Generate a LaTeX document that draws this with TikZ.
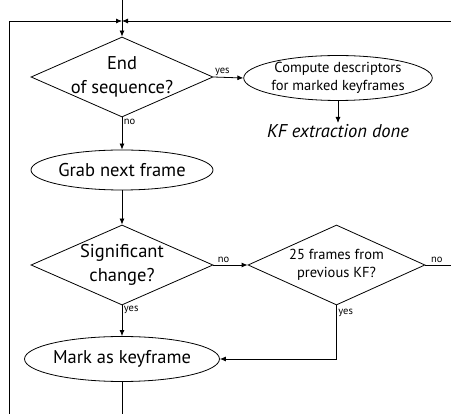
\documentclass[tikz,border=0pt]{standalone}
\usepackage{fontspec}
\setmainfont{PT Sans}
\usetikzlibrary{shapes.geometric,arrows.meta}
\begin{document}
\begin{tikzpicture}[x=1pt,y=-1pt,
  line width=0.8pt,
  >={Latex[length=6pt,width=5pt]},
  decision/.style={diamond,draw,aspect=2.275,inner sep=-10pt,minimum width=182pt,minimum height=80pt,align=center},
  terminal/.style={ellipse,draw,inner sep=0pt,minimum width=182pt,minimum height=40pt,align=center},
  big/.style={font=\fontsize{18.5}{24}\selectfont},
  mid/.style={font=\fontsize{14.5}{18.5}\selectfont},
  lbl/.style={font=\fontsize{10.5}{12}\selectfont,inner sep=1.5pt}
]
\useasboundingbox (0,0) rectangle (451,414);

% flowchart nodes
\node[decision,big] (eos) at (122,77) {End\\of sequence?};
\node[terminal,mid,minimum height=42pt] (desc) at (338,78) {Compute descriptors\\for marked keyframes};
\node[font=\fontsize{18.5}{20}\selectfont\itshape,inner sep=1pt,anchor=north] (done) at (338,123) {KF extraction done};
\node[terminal,big] (grab) at (122,170) {Grab next frame};
\node[decision,big] (sig) at (122,265) {Significant\\change?};
\node[decision,mid,minimum width=177pt] (kf25) at (336.5,265) {25 frames from\\previous KF?};
\node[terminal,big,minimum height=45pt] (mark) at (122,359) {Mark as keyframe};

% loose ends of the loop lines
\coordinate (top) at (122,0);
\coordinate (join) at (122,21);
\coordinate (lefttop) at (9,21);
\coordinate (leftbot) at (9,414);
\coordinate (righttop) at (451,21);
\coordinate (rightno) at (451,265);
\coordinate (markout) at (122,414);

% connectors
\draw[->] (top) -- (eos.north);
\draw[->] (leftbot) -- (lefttop) -- (join);
\draw[->] (righttop) -- (join);
\draw[->] (eos.east) -- node[lbl,above,pos=0.3]{yes} (desc.west);
\draw[->] (desc.south) -- (done.north);
\draw[->] (eos.south) -- node[lbl,right,pos=0.15]{no} (grab.north);
\draw[->] (grab.south) -- (sig.north);
\draw[->] (sig.east) -- node[lbl,above,pos=0.3]{no} (kf25.west);
\draw (kf25.east) -- node[lbl,above,pos=0.45]{no} (rightno);
\draw[->] (sig.south) -- node[lbl,right,pos=0.15]{yes} (mark.north);
\draw[->] (kf25.south) |- node[lbl,right,pos=0.07]{yes} (mark.east);
\draw (mark.south) -- (markout);
\end{tikzpicture}
\end{document}
